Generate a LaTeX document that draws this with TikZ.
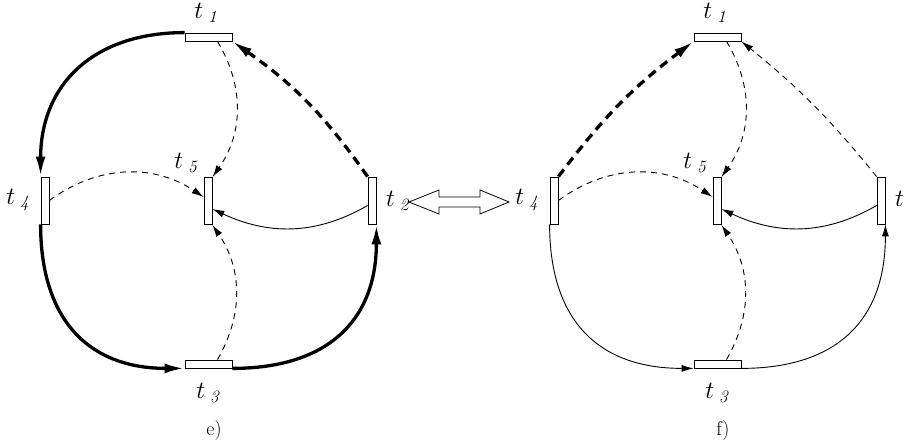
\documentclass[tikz,border=0pt]{standalone}
\usepackage{amsmath, amssymb}
\usepackage{tikz}
\usetikzlibrary{arrows.meta}

\tikzset{
  hbar/.style={draw, rectangle, minimum width=47pt, minimum height=8pt, inner sep=0pt, line width=0.8pt},
  vbar/.style={draw, rectangle, minimum width=8pt, minimum height=47pt, inner sep=0pt, line width=0.8pt},
  lbl/.style={inner sep=0pt, font=\fontsize{23}{27}\selectfont},
  arc/.style={-{Latex[length=12pt,width=7pt]}, line width=0.9pt},
  darc/.style={arc, dash pattern=on 6pt off 5pt},
  harc/.style={-{Latex[length=20pt,width=10pt]}, line width=3.3pt},
  hdarc/.style={harc, dash pattern=on 9pt off 6pt},
}

\begin{document}
\begin{tikzpicture}[x=1pt, y=1pt]
\useasboundingbox (0,0) rectangle (909,446);
% transitions of both nets
\foreach \p/\dx in {e/0, f/509}{
    \node[hbar] (\p1) at (208.5+\dx,409) {};
    \node[vbar] (\p2) at (372+\dx,245.5) {};
    \node[hbar] (\p3) at (208.5+\dx,82) {};
    \node[vbar] (\p4) at (45+\dx,245.5) {};
    \node[vbar] (\p5) at (208+\dx,245) {};
    \node[lbl] (\p1lbl) at (207+\dx,433) {$t_{\;\mathit 1}$};
    \node[lbl, anchor=west] (\p2lbl) at (386+\dx,245) {$t_{\;\mathit 2}$};
    \node[lbl] (\p3lbl) at (209+\dx,53) {$t_{\;\mathit 3}$};
    \node[lbl] (\p4lbl) at (19+\dx,246) {$t_{\;\mathit 4}$};
    \node[lbl] (\p5lbl) at (187+\dx,283) {$t_{\;\mathit 5}$};
    \node[font=\fontsize{20}{24}\selectfont] (cap\p) at (214+\dx,15) {\p)};
}
% net e)
\draw[harc]  (e1.north west) to[out=180, in=90, looseness=1.15] (e4.north west);
\draw[hdarc] (e2.north west) to[bend right=10] (e1.south east);
\draw[darc]  ([xshift=9pt]e1.south) to[bend left=33] (e5.north east);
\draw[darc]  (e4.east) to[bend left=35] ([yshift=4pt]e5.west);
\draw[arc]   ([yshift=-5pt]e2.west) to[out=-150, in=-25] ([yshift=-8pt]e5.east);
\draw[darc]  ([xshift=9pt]e3.north) to[bend right=32] (e5.south east);
\draw[harc]  (e4.south west) to[out=-90, in=180, looseness=1.2] (e3.south west);
\draw[harc]  (e3.south east) to[out=0, in=-90, looseness=1.2] (e2.south east);
% net f)
\draw[hdarc] (f4.north east) to[bend left=8] (f1.south west);
\draw[darc]  (f2.north west) to[bend right=6] (f1.south east);
\draw[darc]  ([xshift=9pt]f1.south) to[bend left=33] (f5.north east);
\draw[darc]  (f4.east) to[bend left=35] ([yshift=4pt]f5.west);
\draw[arc]   ([yshift=-5pt]f2.west) to[out=-150, in=-25] ([yshift=-8pt]f5.east);
\draw[darc]  ([xshift=9pt]f3.north) to[bend right=32] (f5.south east);
\draw[arc]   (f4.south west) to[out=-90, in=180, looseness=1.2] (f3.south west);
\draw[arc]   (f3.south east) to[out=0, in=-90, looseness=1.2] (f2.south east);
% equivalence sign
\draw[line width=0.8pt] (409,244) -- (439,256) -- (439,249) -- (480,249) -- (480,256)
    -- (509,244) -- (480,232) -- (480,239) -- (439,239) -- (439,232) -- cycle;
\end{tikzpicture}
\end{document}
